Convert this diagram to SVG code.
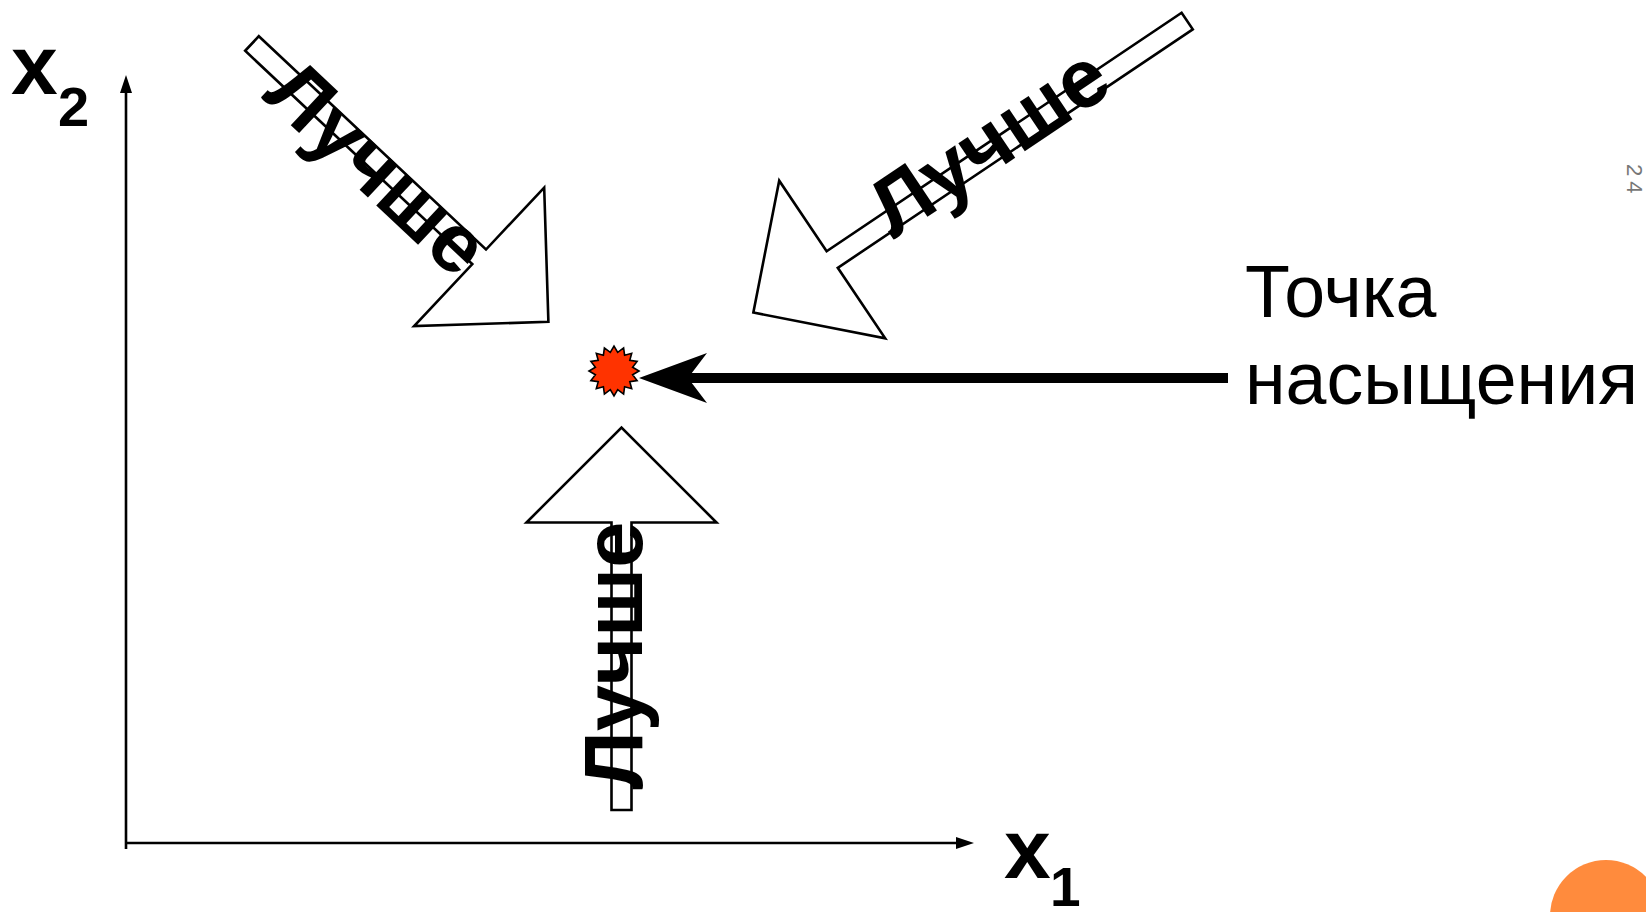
<svg xmlns="http://www.w3.org/2000/svg" width="1646" height="912" viewBox="0 0 1646 912">
<defs>
<style>
.bg{fill:#ffffff}
.axis{stroke:#000;stroke-width:2.6;fill:none}
.axhead{fill:#000;stroke:none}
.block{fill:#fff;stroke:#000;stroke-width:2.6;stroke-linejoin:miter}
.lbl{font-family:"Liberation Sans",Arial,sans-serif;font-weight:bold;font-size:83px;fill:#000}
.ax{font-family:"Liberation Sans",Arial,sans-serif;font-weight:bold;fill:#000}
.txt{font-family:"Liberation Sans",Arial,sans-serif;font-size:73.5px;fill:#000}
.pg{font-family:"Liberation Sans",Arial,sans-serif;font-size:22px;letter-spacing:5px;fill:#777}
</style>
</defs>
<rect class="bg" x="0" y="0" width="1646" height="912"/>

<g id="axes">
  <line class="axis" x1="126" y1="849" x2="126" y2="90"/>
  <polygon class="axhead" points="126,75 120,93 132,93"/>
  <line class="axis" x1="126" y1="843" x2="958" y2="843"/>
  <polygon class="axhead" points="974,843 956,837 956,849"/>
  <text class="ax" x="11" y="94" font-size="84">x</text>
  <text class="ax" x="58" y="126" font-size="56">2</text>
  <text class="ax" x="1004" y="878" font-size="84">x</text>
  <text class="ax" x="1050" y="906" font-size="55">1</text>
</g>

<g id="arrow-better-1" transform="translate(252,43.5) rotate(43.2)">
  <polygon class="block" points="0,-10 311.6,-10 311.6,-95 406.6,0 311.6,95 311.6,10 0,10"/>
  <text class="lbl" x="177" y="33" text-anchor="middle">Лучше</text>
</g>

<g id="arrow-better-2">
  <polygon class="block" transform="translate(1187.2,21) rotate(146.1)" points="0,-10 427.7,-10 427.7,-95 522.7,0 427.7,95 427.7,10 0,10"/>
  <text class="lbl" transform="translate(1004.5,165) rotate(-33.9)" x="0" y="0" text-anchor="middle">Лучше</text>
</g>

<g id="arrow-better-3" transform="translate(621.5,810) rotate(-90)">
  <polygon class="block" points="0,-10 287.5,-10 287.5,-95 382.5,0 287.5,95 287.5,10 0,10"/>
  <text class="lbl" x="154.5" y="20" text-anchor="middle">Лучше</text>
</g>

<g id="saturation-point" transform="translate(614,371)">
  <polygon fill="#ff3300" stroke="#000" stroke-width="1.6" points="25,0 18.6,3.7 23.1,9.6 15.8,10.6 17.7,17.7 10.6,15.8 9.6,23.1 3.7,18.6 0,25 -3.7,18.6 -9.6,23.1 -10.6,15.8 -17.7,17.7 -15.8,10.6 -23.1,9.6 -18.6,3.7 -25,0 -18.6,-3.7 -23.1,-9.6 -15.8,-10.6 -17.7,-17.7 -10.6,-15.8 -9.6,-23.1 -3.7,-18.6 0,-25 3.7,-18.6 9.6,-23.1 10.6,-15.8 17.7,-17.7 15.8,-10.6 23.1,-9.6 18.6,-3.7"/>
</g>

<g id="connectors">
  <line x1="686" y1="378" x2="1228" y2="378" stroke="#000" stroke-width="10"/>
  <polygon fill="#000" points="639,378 707,353 688,378 707,403"/>
</g>

<g id="label-saturation">
  <text class="txt" x="1245" y="317">Точка</text>
  <text class="txt" x="1245" y="404">насыщения</text>
</g>

<g id="page-number">
  <text class="pg" transform="translate(1627,164) rotate(90)" x="0" y="0">24</text>
</g>

<circle id="corner-dot" cx="1606" cy="916" r="56" fill="#ff8b3d"/>
</svg>
